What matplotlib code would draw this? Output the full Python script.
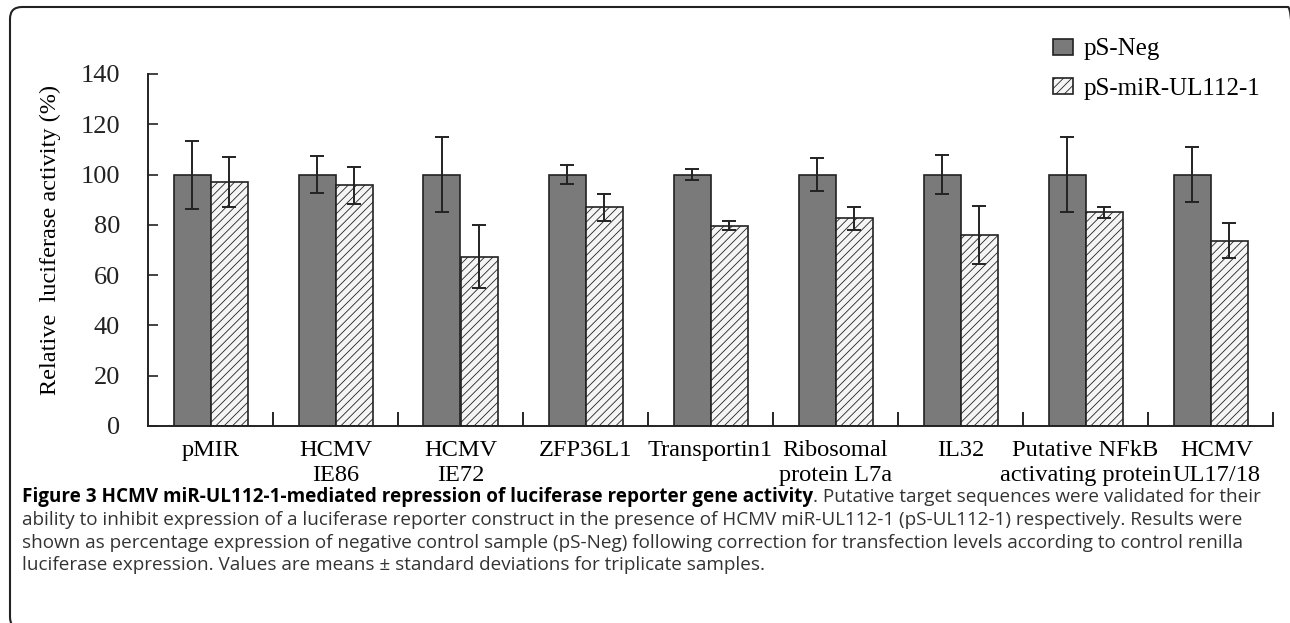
import numpy as np
import matplotlib
matplotlib.use("Agg")
import matplotlib.pyplot as plt
from matplotlib.patches import FancyBboxPatch
from matplotlib.transforms import ScaledTranslation

categories = ["pMIR", "HCMV\nIE86", "HCMV\nIE72", "ZFP36L1", "Transportin1",
              "Ribosomal\nprotein L7a", "IL32", "Putative NFkB\nactivating protein",
              "HCMV\nUL17/18"]
neg_mean = [100, 100, 100, 100, 100, 100, 100, 100, 100]
neg_sd = [13.5, 7.3, 15, 3.8, 2.1, 6.7, 7.8, 15, 11]
mir_mean = [97, 95.8, 67.3, 87, 79.7, 82.6, 76, 85, 73.7]
mir_sd = [10, 7.4, 12.5, 5.4, 1.7, 4.6, 11.5, 2.1, 6.9]
yticks = [0, 20, 40, 60, 80, 100, 120, 140]

plt.rcParams['hatch.color'] = '#c2c2c2'
plt.rcParams['hatch.linewidth'] = 0.6

W, H = 1290, 623
fig = plt.figure(figsize=(12.9, 6.23), dpi=100)
ax = fig.add_axes([148 / W, 1 - 426 / H, (1273 - 148) / W, (426 - 74) / H])

x = np.arange(len(categories)) + 0.5
bw = 0.296
serif = "Liberation Serif"

ax.bar(x - bw / 2, neg_mean, bw, color='#7a7a7a', edgecolor='#222222', linewidth=1.2,
       label='pS-Neg')
ax.bar(x + bw / 2, mir_mean, bw, color='#f5f5f5', edgecolor='#222222', linewidth=1.2,
       hatch='////', label='pS-miR-UL112-1')
ax.errorbar(x - bw / 2, neg_mean, yerr=neg_sd, fmt='none', ecolor='#222222',
            elinewidth=1.4, capsize=5, capthick=1.4)
ax.errorbar(x + bw / 2, mir_mean, yerr=mir_sd, fmt='none', ecolor='#222222',
            elinewidth=1.4, capsize=5, capthick=1.4)

ax.set_xlim(0, len(categories))
ax.set_ylim(0, 140)
ax.spines['top'].set_visible(False)
ax.spines['right'].set_visible(False)
for s in ['left', 'bottom']:
    ax.spines[s].set_linewidth(1.4)
    ax.spines[s].set_color('#222222')

ax.set_yticks(yticks)
ax.set_yticklabels([str(v) for v in yticks], family=serif, fontsize=19)
ax.tick_params(axis='y', direction='in', length=7, width=1.2, pad=20, colors='#222222')

ax.set_xticks(np.arange(1, len(categories) + 1))
ax.set_xticklabels([])
ax.tick_params(axis='x', which='major', direction='in', length=10, width=1.2)
ax.set_xticks(x, minor=True)
ax.set_xticklabels(categories, minor=True, family=serif, fontsize=17.6, linespacing=1.28)
ax.tick_params(axis='x', which='minor', length=0, pad=10)
last = ax.get_xticklabels(minor=True)[-1]
last.set_transform(last.get_transform() + ScaledTranslation(6 / 100, 0, fig.dpi_scale_trans))

ax.set_ylabel("Relative  luciferase activity (%)", family=serif, fontsize=17.5)
ax.yaxis.set_label_coords(-0.077, 0.53)

leg = fig.legend(loc='upper left', bbox_to_anchor=(1030 / W, 1 - 16 / H), frameon=False,
                 prop={'family': serif, 'size': 18}, handlelength=0.8, handleheight=0.62,
                 handletextpad=0.45, labelspacing=0.68)

# caption
cap_font = "Open Sans"
cap_size = 13.6
y1 = 1 - 497 / H
t = fig.text(22 / W, y1, "Figure 3 HCMV miR-UL112-1-mediated repression of luciferase reporter gene activity",
             family=cap_font, fontsize=cap_size, weight='bold', va='center')
fig.canvas.draw()
bb = t.get_window_extent()
fig.text(bb.x1 / W, y1, ". Putative target sequences were validated for their",
         family=cap_font, fontsize=cap_size, va='center', color='#333333')
lines = [
    "ability to inhibit expression of a luciferase reporter construct in the presence of HCMV miR-UL112-1 (pS-UL112-1) respectively. Results were",
    "shown as percentage expression of negative control sample (pS-Neg) following correction for transfection levels according to control renilla",
    "luciferase expression. Values are means \u00b1 standard deviations for triplicate samples.",
]
for i, ln in enumerate(lines):
    fig.text(22 / W, 1 - (520 + 22.5 * i) / H, ln, family=cap_font, fontsize=cap_size,
             va='center', color='#333333')

# rounded frame around the figure panel
frame = FancyBboxPatch((10, -6), 1290, 623 - 7 + 6, boxstyle="round,pad=0,rounding_size=12",
                       transform=None, fill=False, edgecolor='#222222', linewidth=1.5)
fig.patches.append(frame)

fig.savefig("out.png", dpi=100)
